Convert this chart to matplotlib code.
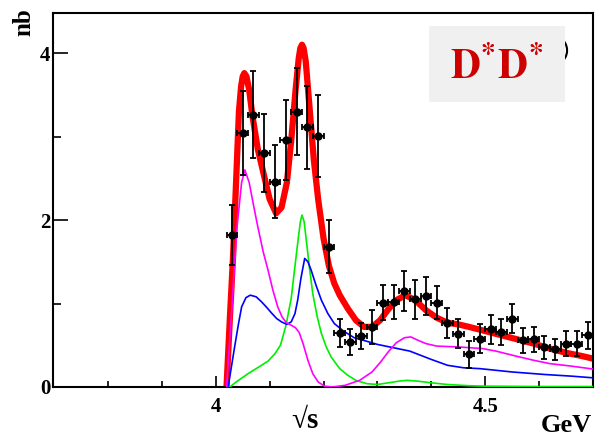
import numpy as np
import matplotlib.pyplot as plt
from matplotlib.patches import Rectangle, Ellipse

plt.rcParams['font.family'] = ['Liberation Serif', 'DejaVu Serif']
plt.rcParams['font.weight'] = 'bold'
plt.rcParams['mathtext.fontset'] = 'stix'

# Measured cross section (nb) vs sqrt(s) (GeV)
x_data = [4.03, 4.05, 4.07, 4.09, 4.11, 4.13, 4.15, 4.17, 4.19, 4.21,
          4.23, 4.25, 4.27, 4.29, 4.31, 4.33, 4.35, 4.37, 4.39, 4.41,
          4.43, 4.45, 4.47, 4.49, 4.51, 4.53, 4.55, 4.57, 4.59, 4.61,
          4.63, 4.65, 4.67, 4.69]
y_data = [1.82, 3.04, 3.26, 2.80, 2.46, 2.96, 3.30, 3.11, 3.01, 1.68,
          0.65, 0.54, 0.61, 0.72, 1.01, 1.02, 1.15, 1.05, 1.09, 1.01,
          0.77, 0.64, 0.39, 0.58, 0.69, 0.66, 0.82, 0.56, 0.57, 0.475,
          0.45, 0.52, 0.52, 0.62]
y_err = [0.36, 0.50, 0.52, 0.47, 0.44, 0.48, 0.52, 0.50, 0.49, 0.32,
         0.17, 0.16, 0.16, 0.20, 0.21, 0.20, 0.24, 0.23, 0.23, 0.20,
         0.18, 0.17, 0.16, 0.17, 0.17, 0.16, 0.17, 0.15, 0.15, 0.14,
         0.13, 0.15, 0.15, 0.16]
x_err = 0.01

# Total fit (red)
x_tot = [4.020, 4.026, 4.032, 4.038, 4.043, 4.047, 4.050, 4.053, 4.057, 4.062,
         4.068, 4.078, 4.090, 4.100, 4.112, 4.122, 4.132, 4.140, 4.148, 4.154,
         4.157, 4.160, 4.163, 4.167, 4.174, 4.182, 4.190, 4.200, 4.210, 4.220,
         4.230, 4.245, 4.260, 4.275, 4.290, 4.305, 4.320, 4.335, 4.352, 4.370,
         4.390, 4.410, 4.430, 4.450, 4.470, 4.500, 4.530, 4.560, 4.590, 4.620,
         4.650, 4.680, 4.700]
y_tot = [0.0, 0.8, 1.55, 2.5, 3.3, 3.6, 3.72, 3.76, 3.72, 3.56,
         3.25, 2.85, 2.52, 2.25, 2.08, 2.15, 2.45, 2.95, 3.55, 3.94,
         4.06, 4.10, 4.06, 3.90, 3.35, 2.72, 2.25, 1.78, 1.45, 1.24,
         1.10, 0.94, 0.80, 0.72, 0.72, 0.80, 0.93, 1.04, 1.10, 1.04,
         0.92, 0.83, 0.77, 0.75, 0.72, 0.67, 0.62, 0.57, 0.52, 0.46,
         0.41, 0.37, 0.34]

# Magenta component
x_mag = [4.020, 4.030, 4.035, 4.040, 4.048, 4.054, 4.062, 4.070, 4.078, 4.088,
         4.097, 4.106, 4.115, 4.123, 4.131, 4.140, 4.148, 4.155, 4.162, 4.171,
         4.180, 4.190, 4.202, 4.217, 4.240, 4.267, 4.290, 4.306, 4.320, 4.335,
         4.350, 4.362, 4.375, 4.390, 4.410, 4.450, 4.495, 4.520, 4.557, 4.590,
         4.620, 4.660, 4.700]
y_mag = [0.0, 0.95, 1.5, 1.95, 2.45, 2.60, 2.45, 2.18, 1.92, 1.62,
         1.40, 1.16, 0.96, 0.84, 0.77, 0.74, 0.71, 0.65, 0.52, 0.32,
         0.16, 0.06, 0.01, 0.0, 0.02, 0.08, 0.18, 0.30, 0.42, 0.53,
         0.59, 0.60, 0.56, 0.52, 0.49, 0.48, 0.46, 0.43, 0.37, 0.32,
         0.28, 0.25, 0.215]

# Blue component
x_blu = [4.023, 4.030, 4.035, 4.042, 4.048, 4.056, 4.064, 4.075, 4.085, 4.095,
         4.103, 4.113, 4.122, 4.132, 4.140, 4.147, 4.152, 4.158, 4.165, 4.171,
         4.177, 4.186, 4.196, 4.208, 4.220, 4.237, 4.257, 4.279, 4.300, 4.330,
         4.360, 4.380, 4.400, 4.430, 4.460, 4.490, 4.550, 4.610, 4.660, 4.700]
y_blu = [0.0, 0.28, 0.48, 0.75, 0.96, 1.07, 1.10, 1.08, 1.02, 0.95,
         0.89, 0.82, 0.78, 0.75, 0.78, 0.88, 1.04, 1.30, 1.54, 1.50,
         1.40, 1.22, 1.04, 0.88, 0.76, 0.67, 0.59, 0.55, 0.51, 0.47,
         0.43, 0.38, 0.33, 0.26, 0.23, 0.22, 0.18, 0.15, 0.13, 0.11]

# Green component
x_grn = [4.026, 4.040, 4.060, 4.080, 4.097, 4.110, 4.120, 4.130, 4.140, 4.147,
         4.152, 4.157, 4.160, 4.164, 4.168, 4.174, 4.180, 4.188, 4.196, 4.205,
         4.214, 4.230, 4.245, 4.260, 4.280, 4.300, 4.320, 4.340, 4.355, 4.375,
         4.400, 4.430, 4.470, 4.500, 4.600, 4.700]
y_grn = [0.0, 0.07, 0.16, 0.24, 0.31, 0.40, 0.50, 0.73, 1.06, 1.45,
         1.72, 1.98, 2.06, 1.98, 1.76, 1.42, 1.12, 0.85, 0.64, 0.48,
         0.36, 0.22, 0.14, 0.08, 0.04, 0.03, 0.05, 0.07, 0.08, 0.07,
         0.05, 0.03, 0.015, 0.01, 0.005, 0.005]

fig = plt.figure(figsize=(5.96, 4.38), dpi=100)
ax = fig.add_axes([53/596, 51/438, 540/596, 374/438])

ax.plot(x_tot, y_tot, color='#ff0000', lw=4.5, zorder=2,
        solid_joinstyle='round', solid_capstyle='round')
ax.plot(x_grn, y_grn, color='#00ee00', lw=1.2, zorder=3)
ax.plot(x_blu, y_blu, color='#0000ff', lw=1.2, zorder=3)
ax.plot(x_mag, y_mag, color='#ff00ff', lw=1.2, zorder=3)
ax.errorbar(x_data, y_data, yerr=y_err, xerr=x_err, fmt='o', color='black',
            ms=5, elinewidth=1.3, capsize=2, capthick=1.3, zorder=5)

ax.set_xlim(3.698, 4.698)
ax.set_ylim(0, 4.48)
ax.set_xticks([4.0, 4.5])
ax.set_xticklabels(['4', '4.5'])
ax.set_xticks(np.arange(3.8, 4.7, 0.1), minor=True)
ax.set_yticks([0, 2, 4])
ax.set_yticks([1, 3], minor=True)
ax.tick_params(which='both', direction='in', labelsize=15, width=1.2)
ax.tick_params(axis='y', which='major', length=11, pad=2)
ax.tick_params(axis='y', which='minor', length=6)
ax.tick_params(axis='x', which='major', length=8, pad=7)
ax.tick_params(axis='x', which='minor', length=4)
for s in ax.spines.values():
    s.set_linewidth(1.5)

fig.text(24/596, 1 - 22/438, 'nb', rotation=90, fontsize=18, fontweight='bold',
         ha='center', va='center')
fig.text(305/596, 1 - 420/438, '√s', fontsize=21, fontweight='bold',
         ha='center', va='center')
fig.text(592/596, 1 - 425/438, 'GeV', fontsize=19, fontweight='bold',
         ha='right', va='center')

# label box (with a bit of a hidden symbol peeking out on the right)
ax.add_patch(Ellipse((0.935, 0.90), 0.034, 0.064, transform=ax.transAxes,
                     fill=False, ec='black', lw=1.5, zorder=6))
ax.add_patch(Rectangle((0.696, 0.762), 0.252, 0.203, transform=ax.transAxes,
                       fc='#f0f0f0', ec='none', zorder=7))
ax.text(0.822, 0.856, r'$\mathbf{D^{*}D^{*}}$', transform=ax.transAxes,
        fontsize=30, color='#cc0000', ha='center', va='center', zorder=8)

plt.savefig('out.png', dpi=100)
